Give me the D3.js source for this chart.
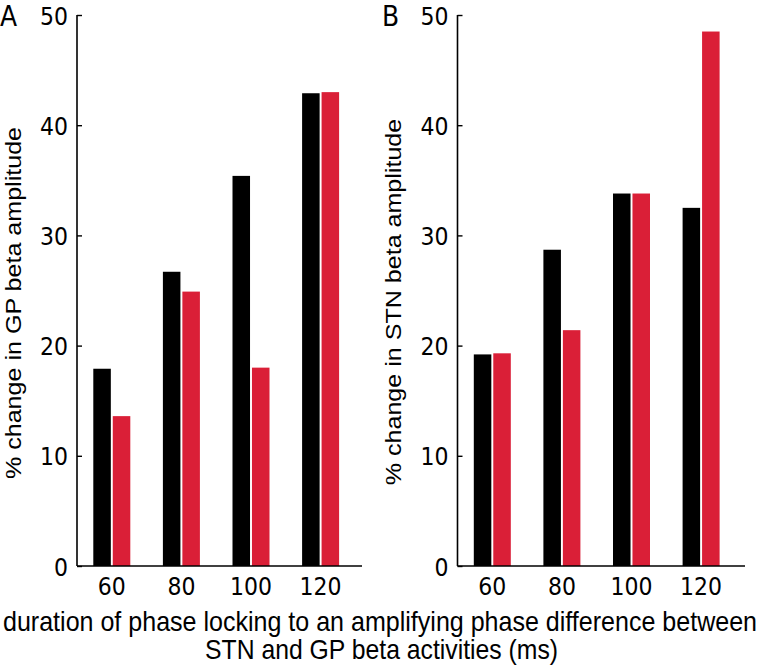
<!DOCTYPE html>
<html><head><meta charset="utf-8">
<script src="https://cdn.jsdelivr.net/npm/d3@7"></script>
<style>html,body{margin:0;padding:0;background:#fff;}svg{display:block;}</style>
</head><body>
<svg id="chart" width="760" height="671"></svg>
<script>
const categories = ["60", "80", "100", "120"];
const seriesNames = ["black", "red"];
const gpBlack  = [17.9, 26.7, 35.4, 42.9];
const gpRed    = [13.6, 24.9, 18.0, 43.0];
const stnBlack = [19.2, 28.7, 33.8, 32.5];
const stnRed   = [19.3, 21.4, 33.8, 48.5];
const yTicks = [0, 10, 20, 30, 40, 50];
const panels = [
  {letter: "A", label: "% change in GP beta amplitude", values: [gpBlack, gpRed]},
  {letter: "B", label: "% change in STN beta amplitude", values: [stnBlack, stnRed]}
];
const xTitle = ["duration of phase locking to an amplifying phase difference between",
                "STN and GP beta activities (ms)"];
const colors = {black: "#000000", red: "#da1f37"};

(function () {
const svg = d3.select("#chart");
const plotTop = 15, plotBottom = 566;
const SY = 1.14; // vertical stretch of the text in the reference
const y = d3.scaleLinear().domain([0, 50]).range([plotBottom, plotTop]);

const layout = [
  {x0: 77, x1: 362, labelX: 21, labelY: 303, letterX: 0},
  {x0: 457.5, x1: 745, labelX: 401, labelY: 302, letterX: 382}
];

panels.forEach((p, pi) => {
  const L = layout[pi];
  const g = svg.append("g");
  const x = d3.scaleBand().domain(categories).range([L.x0, L.x0 + 4 * 69.6]).paddingInner(0).paddingOuter(0);
  const xs = d3.scaleBand().domain(seriesNames).range([-18.5, 18.5]).paddingInner(0.1);

  seriesNames.forEach((s, si) => {
    g.selectAll(null).data(categories).enter().append("rect")
      .attr("x", d => x(d) + x.bandwidth() / 2 + xs(s))
      .attr("width", xs.bandwidth())
      .attr("y", (d, i) => y(p.values[si][i]))
      .attr("height", (d, i) => plotBottom - y(p.values[si][i]))
      .attr("fill", colors[s]);
  });

  const yAxis = d3.axisLeft(y).tickValues(yTicks).tickSize(-5).tickPadding(9).tickFormat(d3.format("d"));
  const ya = g.append("g").attr("transform", `translate(${L.x0},0)`).call(yAxis);
  ya.select(".domain").attr("stroke", "#000").attr("stroke-width", 1.6).attr("d", `M0,${plotTop}V${plotBottom}`);
  ya.selectAll(".tick line").attr("stroke", "#000").attr("stroke-width", 1.4);
  ya.selectAll(".tick text").attr("font-family", "DejaVu Sans").attr("font-size", 22).attr("fill", "#000")
    .attr("dy", null).attr("y", 0)
    .attr("transform", `translate(0,${0.36 * 22 * SY}) scale(1,${SY})`);

  const xAxis = d3.axisBottom(x).tickSize(0);
  const xa = g.append("g").attr("transform", `translate(0,${plotBottom})`).call(xAxis);
  xa.select(".domain").attr("stroke", "#000").attr("stroke-width", 1.6).attr("d", `M${L.x0},0H${L.x1}`);
  xa.selectAll(".tick text").attr("font-family", "DejaVu Sans").attr("font-size", 22).attr("fill", "#000")
    .attr("dy", null).attr("y", 0)
    .attr("transform", `translate(0,29) scale(1,${SY})`);

  g.append("text")
    .attr("transform", `translate(${L.labelX},${L.labelY}) scale(1,${SY}) rotate(-90)`)
    .attr("text-anchor", "middle")
    .attr("font-family", "Liberation Sans, Arial, sans-serif")
    .attr("font-size", 22)
    .text(p.label);

  g.append("text")
    .attr("transform", `translate(${L.letterX},26) scale(1,${SY})`)
    .attr("font-family", "DejaVu Sans")
    .attr("font-size", 25)
    .text(p.letter);
});

svg.append("text").attr("transform", `translate(380,631) scale(1,${SY})`).attr("text-anchor", "middle")
  .attr("font-family", "Liberation Sans, Arial, sans-serif").attr("font-size", 24)
  .attr("textLength", 754).attr("lengthAdjust", "spacingAndGlyphs")
  .text(xTitle[0]);
svg.append("text").attr("transform", `translate(381.5,659) scale(1,${SY})`).attr("text-anchor", "middle")
  .attr("font-family", "Liberation Sans, Arial, sans-serif").attr("font-size", 24)
  .attr("textLength", 353).attr("lengthAdjust", "spacingAndGlyphs")
  .text(xTitle[1]);
})();
</script>
</body></html>
